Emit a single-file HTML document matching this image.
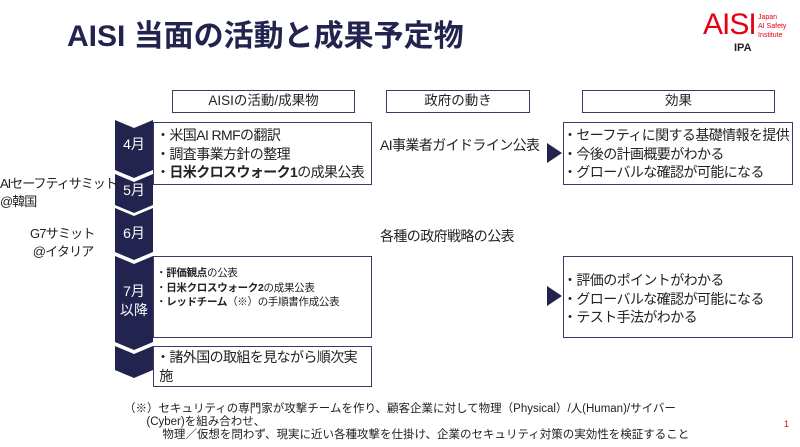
<!DOCTYPE html>
<html><head><meta charset="utf-8"><style>
body{margin:0;width:800px;height:447px;background:#fff;position:relative;overflow:hidden;font-family:"Liberation Sans","Noto Sans CJK JP",sans-serif;color:#23234f}
.a{position:absolute;white-space:nowrap}
.box{position:absolute;border:1.5px solid #3a3a66;box-sizing:border-box}
.hdr{position:absolute;border:1.5px solid #3a3a66;box-sizing:border-box;text-align:center;font-size:13.5px;line-height:20px;color:#222}
.t{font-size:14px;line-height:18.5px;color:#222;letter-spacing:-0.6px}
.s{font-size:10.5px;line-height:14.5px;color:#222;letter-spacing:-0.3px}
</style></head><body>
<div class="a" style="left:67px;top:18px;font-size:30px;font-weight:bold;line-height:38px">AISI 当面の活動と成果予定物</div>
<div class="a" style="left:703px;top:8px;font-size:30px;color:#e60012;line-height:34px;letter-spacing:-1px">AISI</div>
<div class="a" style="left:758px;top:13px;font-size:7px;line-height:9px;color:#e60012">Japan<br>AI Safety<br>Institute</div>
<div class="a" style="left:734px;top:42px;font-size:11px;font-weight:bold;color:#222">IPA</div>

<div class="hdr" style="left:172px;top:90px;width:183px;height:23px">AISIの活動/成果物</div>
<div class="hdr" style="left:386px;top:90px;width:144px;height:23px">政府の動き</div>
<div class="hdr" style="left:582px;top:90px;width:193px;height:23px">効果</div>

<svg class="a" style="left:0;top:0" width="800" height="447">
<g fill="#23234f">
<polygon points="115,120 134,128 153,120 153,170 134,178 115,170"/>
<polygon points="115,174 134,182 153,174 153,205 134,213 115,205"/>
<polygon points="115,208 134,216 153,208 153,252 134,260 115,252"/>
<polygon points="115,256 134,264 153,256 153,342 134,350 115,342"/>
<polygon points="115,346 134,354 153,346 153,370 134,378 115,370"/>
<polygon points="547,143 562,153 547,163"/>
<polygon points="547,286 562,296 547,306"/>
</g>
<g fill="#fff" font-size="14" text-anchor="middle" font-family="Liberation Sans, Noto Sans CJK JP, sans-serif">
<text x="134" y="149">4月</text><text x="134" y="195">5月</text><text x="134" y="238">6月</text>
<text x="134" y="296">7月</text><text x="134" y="315">以降</text>
</g>
</svg>

<div class="box" style="left:153px;top:122px;width:219px;height:63px"></div>
<div class="a t" style="left:156px;top:126px">・米国AI RMFの翻訳<br>・調査事業方針の整理<br>・<b>日米クロスウォーク1</b>の成果公表</div>
<div class="box" style="left:153px;top:256px;width:219px;height:82px"></div>
<div class="a s" style="left:156px;top:266px">・<b>評価観点</b>の公表<br>・<b>日米クロスウォーク2</b>の成果公表<br>・<b>レッドチーム</b>（※）の手順書作成公表</div>
<div class="box" style="left:153px;top:346px;width:219px;height:41px"></div>
<div class="a t" style="left:156px;top:348px">・諸外国の取組を見ながら順次実<br>&nbsp;施</div>

<div class="a" style="left:0px;top:175px;font-size:13px;line-height:18px;color:#222;letter-spacing:-1px">AIセーフティサミット<br>@韓国</div>
<div class="a" style="left:30px;top:225px;font-size:13px;line-height:18px;color:#222;letter-spacing:-0.8px">G7サミット<br>&nbsp;@イタリア</div>

<div class="a t" style="left:380px;top:136px">AI事業者ガイドライン公表</div>
<div class="a t" style="left:380px;top:227px">各種の政府戦略の公表</div>

<div class="box" style="left:563px;top:122px;width:230px;height:63px"></div>
<div class="a t" style="left:563px;top:126px">・セーフティに関する基礎情報を提供<br>・今後の計画概要がわかる<br>・グローバルな確認が可能になる</div>
<div class="box" style="left:563px;top:256px;width:230px;height:82px"></div>
<div class="a t" style="left:563px;top:271px">・評価のポイントがわかる<br>・グローバルな確認が可能になる<br>・テスト手法がわかる</div>

<div class="a" style="left:124px;top:403px;font-size:11.5px;line-height:13px;color:#222">（※）セキュリティの専門家が攻撃チームを作り、顧客企業に対して物理（Physical）/人(Human)/サイバー<br>&nbsp;&nbsp;&nbsp;&nbsp;&nbsp;&nbsp;&nbsp;(Cyber)を組み合わせ、<br>&nbsp;&nbsp;&nbsp;&nbsp;&nbsp;&nbsp;&nbsp;&nbsp;&nbsp;&nbsp;&nbsp;&nbsp;物理／仮想を問わず、現実に近い各種攻撃を仕掛け、企業のセキュリティ対策の実効性を検証すること</div>
<div class="a" style="left:784px;top:419px;font-size:9px;color:#e60012">1</div>
</body></html>
